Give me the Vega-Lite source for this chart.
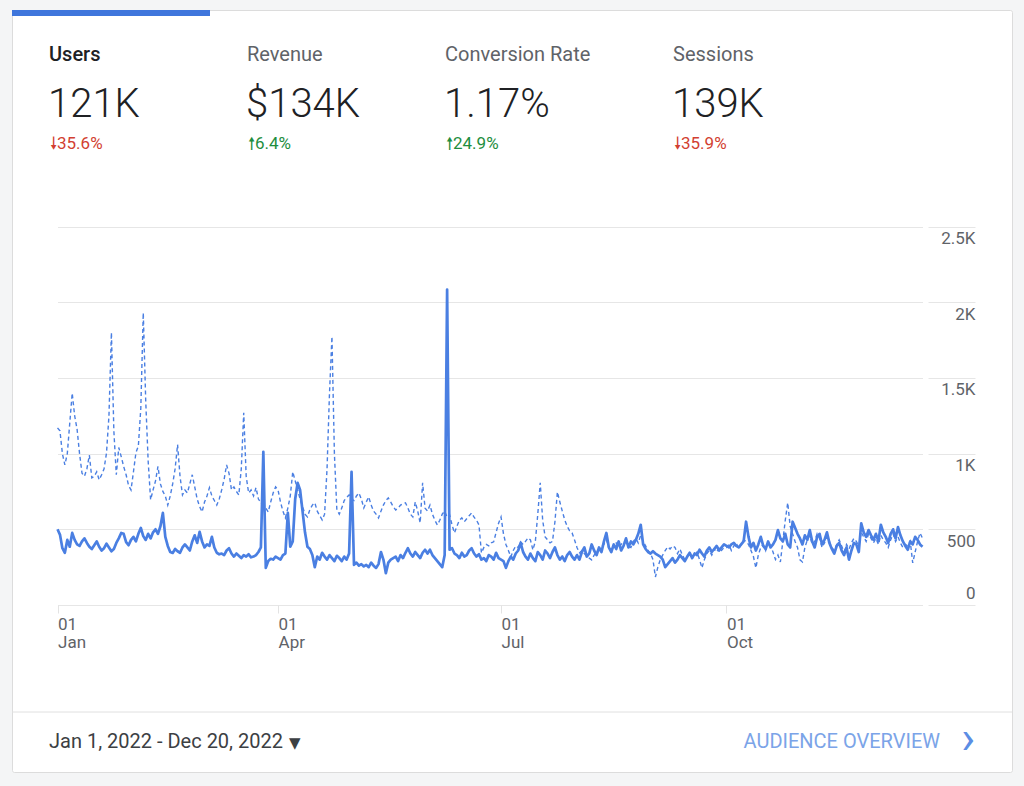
{
  "$schema": "https://vega.github.io/schema/vega-lite/v6.json",
  "width": 1000,
  "height": 762,
  "autosize": {"type": "none"},
  "padding": {"left": 12, "top": 10, "right": 12, "bottom": 14},
  "background": "#f4f5f6",
  "config": {
    "view": {"fill": "#ffffff", "stroke": "#dcdcdc", "strokeWidth": 1, "cornerRadius": 2},
    "font": "Roboto"
  },
  "resolve": {"scale": {"x": "independent", "y": "independent"}},
  "layer": [
    {
      "data": {
        "values": [
          {"date":"2022-01-01","cur":500,"prev":1170},{"date":"2022-01-02","cur":465,"prev":1150},{"date":"2022-01-03","cur":375,"prev":1000},{"date":"2022-01-04","cur":345,"prev":925},{"date":"2022-01-05","cur":430,"prev":1000},{"date":"2022-01-06","cur":385,"prev":1200},{"date":"2022-01-07","cur":476,"prev":1400},{"date":"2022-01-08","cur":430,"prev":1250},{"date":"2022-01-09","cur":400,"prev":1160},{"date":"2022-01-10","cur":390,"prev":1000},{"date":"2022-01-11","cur":420,"prev":870},{"date":"2022-01-12","cur":440,"prev":850},{"date":"2022-01-13","cur":410,"prev":900},{"date":"2022-01-14","cur":385,"prev":990},{"date":"2022-01-15","cur":370,"prev":840},{"date":"2022-01-16","cur":395,"prev":850},{"date":"2022-01-17","cur":420,"prev":880},{"date":"2022-01-18","cur":385,"prev":827},{"date":"2022-01-19","cur":360,"prev":860},{"date":"2022-01-20","cur":375,"prev":900},{"date":"2022-01-21","cur":405,"prev":1005},{"date":"2022-01-22","cur":380,"prev":1250},{"date":"2022-01-23","cur":355,"prev":1800},{"date":"2022-01-24","cur":370,"prev":1150},{"date":"2022-01-25","cur":410,"prev":860},{"date":"2022-01-26","cur":440,"prev":1040},{"date":"2022-01-27","cur":476,"prev":980},{"date":"2022-01-28","cur":470,"prev":915},{"date":"2022-01-29","cur":415,"prev":860},{"date":"2022-01-30","cur":395,"prev":790},{"date":"2022-01-31","cur":430,"prev":760},
          {"date":"2022-02-01","cur":450,"prev":880},{"date":"2022-02-02","cur":420,"prev":1005},{"date":"2022-02-03","cur":470,"prev":1050},{"date":"2022-02-04","cur":509,"prev":1300},{"date":"2022-02-05","cur":455,"prev":1930},{"date":"2022-02-06","cur":430,"prev":1350},{"date":"2022-02-07","cur":470,"prev":950},{"date":"2022-02-08","cur":440,"prev":695},{"date":"2022-02-09","cur":480,"prev":760},{"date":"2022-02-10","cur":500,"prev":820},{"date":"2022-02-11","cur":470,"prev":915},{"date":"2022-02-12","cur":520,"prev":800},{"date":"2022-02-13","cur":608,"prev":750},{"date":"2022-02-14","cur":450,"prev":720},{"date":"2022-02-15","cur":390,"prev":660},{"date":"2022-02-16","cur":350,"prev":720},{"date":"2022-02-17","cur":344,"prev":800},{"date":"2022-02-18","cur":370,"prev":900},{"date":"2022-02-19","cur":355,"prev":1060},{"date":"2022-02-20","cur":345,"prev":850},{"date":"2022-02-21","cur":380,"prev":727},{"date":"2022-02-22","cur":400,"prev":760},{"date":"2022-02-23","cur":380,"prev":740},{"date":"2022-02-24","cur":360,"prev":800},{"date":"2022-02-25","cur":420,"prev":860},{"date":"2022-02-26","cur":460,"prev":780},{"date":"2022-02-27","cur":410,"prev":700},{"date":"2022-02-28","cur":483,"prev":650},
          {"date":"2022-03-01","cur":420,"prev":615},{"date":"2022-03-02","cur":380,"prev":680},{"date":"2022-03-03","cur":400,"prev":720},{"date":"2022-03-04","cur":390,"prev":775},{"date":"2022-03-05","cur":450,"prev":720},{"date":"2022-03-06","cur":380,"prev":690},{"date":"2022-03-07","cur":345,"prev":660},{"date":"2022-03-08","cur":335,"prev":700},{"date":"2022-03-09","cur":340,"prev":760},{"date":"2022-03-10","cur":330,"prev":830},{"date":"2022-03-11","cur":360,"prev":925},{"date":"2022-03-12","cur":375,"prev":870},{"date":"2022-03-13","cur":340,"prev":760},{"date":"2022-03-14","cur":320,"prev":780},{"date":"2022-03-15","cur":340,"prev":750},{"date":"2022-03-16","cur":325,"prev":727},{"date":"2022-03-17","cur":310,"prev":900},{"date":"2022-03-18","cur":330,"prev":1270},{"date":"2022-03-19","cur":320,"prev":850},{"date":"2022-03-20","cur":335,"prev":740},{"date":"2022-03-21","cur":315,"prev":760},{"date":"2022-03-22","cur":320,"prev":720},{"date":"2022-03-23","cur":330,"prev":775},{"date":"2022-03-24","cur":350,"prev":700},{"date":"2022-03-25","cur":380,"prev":675},{"date":"2022-03-26","cur":1012,"prev":650},{"date":"2022-03-27","cur":245,"prev":640},{"date":"2022-03-28","cur":290,"prev":615},{"date":"2022-03-29","cur":305,"prev":680},{"date":"2022-03-30","cur":300,"prev":740},{"date":"2022-03-31","cur":320,"prev":780},
          {"date":"2022-04-01","cur":310,"prev":760},{"date":"2022-04-02","cur":300,"prev":680},{"date":"2022-04-03","cur":330,"prev":620},{"date":"2022-04-04","cur":340,"prev":575},{"date":"2022-04-05","cur":608,"prev":640},{"date":"2022-04-06","cur":385,"prev":720},{"date":"2022-04-07","cur":420,"prev":880},{"date":"2022-04-08","cur":700,"prev":820},{"date":"2022-04-09","cur":807,"prev":760},{"date":"2022-04-10","cur":760,"prev":700},{"date":"2022-04-11","cur":620,"prev":650},{"date":"2022-04-12","cur":480,"prev":600},{"date":"2022-04-13","cur":385,"prev":582},{"date":"2022-04-14","cur":370,"prev":630},{"date":"2022-04-15","cur":330,"prev":660},{"date":"2022-04-16","cur":250,"prev":675},{"date":"2022-04-17","cur":320,"prev":620},{"date":"2022-04-18","cur":300,"prev":590},{"date":"2022-04-19","cur":345,"prev":562},{"date":"2022-04-20","cur":320,"prev":600},{"date":"2022-04-21","cur":300,"prev":900},{"date":"2022-04-22","cur":330,"prev":1400},{"date":"2022-04-23","cur":310,"prev":1773},{"date":"2022-04-24","cur":290,"prev":1000},{"date":"2022-04-25","cur":325,"prev":628},{"date":"2022-04-26","cur":310,"prev":600},{"date":"2022-04-27","cur":290,"prev":640},{"date":"2022-04-28","cur":320,"prev":690},{"date":"2022-04-29","cur":300,"prev":710},{"date":"2022-04-30","cur":340,"prev":727},
          {"date":"2022-05-01","cur":880,"prev":700},{"date":"2022-05-02","cur":265,"prev":690},{"date":"2022-05-03","cur":280,"prev":720},{"date":"2022-05-04","cur":260,"prev":740},{"date":"2022-05-05","cur":270,"prev":700},{"date":"2022-05-06","cur":255,"prev":641},{"date":"2022-05-07","cur":265,"prev":680},{"date":"2022-05-08","cur":250,"prev":714},{"date":"2022-05-09","cur":280,"prev":660},{"date":"2022-05-10","cur":260,"prev":620},{"date":"2022-05-11","cur":245,"prev":600},{"date":"2022-05-12","cur":270,"prev":575},{"date":"2022-05-13","cur":350,"prev":620},{"date":"2022-05-14","cur":300,"prev":660},{"date":"2022-05-15","cur":210,"prev":690},{"date":"2022-05-16","cur":280,"prev":707},{"date":"2022-05-17","cur":300,"prev":680},{"date":"2022-05-18","cur":310,"prev":650},{"date":"2022-05-19","cur":320,"prev":628},{"date":"2022-05-20","cur":290,"prev":640},{"date":"2022-05-21","cur":330,"prev":660},{"date":"2022-05-22","cur":310,"prev":670},{"date":"2022-05-23","cur":345,"prev":675},{"date":"2022-05-24","cur":375,"prev":640},{"date":"2022-05-25","cur":340,"prev":600},{"date":"2022-05-26","cur":320,"prev":582},{"date":"2022-05-27","cur":350,"prev":681},{"date":"2022-05-28","cur":330,"prev":620},{"date":"2022-05-29","cur":310,"prev":542},{"date":"2022-05-30","cur":345,"prev":807},{"date":"2022-05-31","cur":365,"prev":640},
          {"date":"2022-06-01","cur":340,"prev":620},{"date":"2022-06-02","cur":365,"prev":660},{"date":"2022-06-03","cur":330,"prev":600},{"date":"2022-06-04","cur":310,"prev":560},{"date":"2022-06-05","cur":290,"prev":529},{"date":"2022-06-06","cur":270,"prev":560},{"date":"2022-06-07","cur":250,"prev":600},{"date":"2022-06-08","cur":330,"prev":620},{"date":"2022-06-09","cur":2083,"prev":580},{"date":"2022-06-10","cur":365,"prev":595},{"date":"2022-06-11","cur":375,"prev":530},{"date":"2022-06-12","cur":340,"prev":476},{"date":"2022-06-13","cur":330,"prev":520},{"date":"2022-06-14","cur":310,"prev":560},{"date":"2022-06-15","cur":345,"prev":575},{"date":"2022-06-16","cur":320,"prev":550},{"date":"2022-06-17","cur":330,"prev":570},{"date":"2022-06-18","cur":360,"prev":590},{"date":"2022-06-19","cur":375,"prev":608},{"date":"2022-06-20","cur":340,"prev":580},{"date":"2022-06-21","cur":320,"prev":560},{"date":"2022-06-22","cur":335,"prev":529},{"date":"2022-06-23","cur":300,"prev":344},{"date":"2022-06-24","cur":310,"prev":380},{"date":"2022-06-25","cur":290,"prev":400},{"date":"2022-06-26","cur":330,"prev":390},{"date":"2022-06-27","cur":320,"prev":410},{"date":"2022-06-28","cur":300,"prev":417},{"date":"2022-06-29","cur":345,"prev":480},{"date":"2022-06-30","cur":310,"prev":540},
          {"date":"2022-07-01","cur":300,"prev":582},{"date":"2022-07-02","cur":290,"prev":470},{"date":"2022-07-03","cur":245,"prev":400},{"date":"2022-07-04","cur":290,"prev":360},{"date":"2022-07-05","cur":320,"prev":317},{"date":"2022-07-06","cur":300,"prev":360},{"date":"2022-07-07","cur":340,"prev":390},{"date":"2022-07-08","cur":360,"prev":380},{"date":"2022-07-09","cur":410,"prev":417},{"date":"2022-07-10","cur":350,"prev":400},{"date":"2022-07-11","cur":320,"prev":420},{"date":"2022-07-12","cur":300,"prev":443},{"date":"2022-07-13","cur":340,"prev":430},{"date":"2022-07-14","cur":310,"prev":364},{"date":"2022-07-15","cur":290,"prev":420},{"date":"2022-07-16","cur":350,"prev":600},{"date":"2022-07-17","cur":330,"prev":807},{"date":"2022-07-18","cur":300,"prev":560},{"date":"2022-07-19","cur":360,"prev":450},{"date":"2022-07-20","cur":340,"prev":430},{"date":"2022-07-21","cur":310,"prev":410},{"date":"2022-07-22","cur":350,"prev":420},{"date":"2022-07-23","cur":380,"prev":550},{"date":"2022-07-24","cur":330,"prev":747},{"date":"2022-07-25","cur":300,"prev":680},{"date":"2022-07-26","cur":320,"prev":620},{"date":"2022-07-27","cur":290,"prev":562},{"date":"2022-07-28","cur":330,"prev":520},{"date":"2022-07-29","cur":350,"prev":490},{"date":"2022-07-30","cur":320,"prev":476},{"date":"2022-07-31","cur":300,"prev":430},
          {"date":"2022-08-01","cur":330,"prev":380},{"date":"2022-08-02","cur":300,"prev":344},{"date":"2022-08-03","cur":350,"prev":360},{"date":"2022-08-04","cur":380,"prev":340},{"date":"2022-08-05","cur":320,"prev":320},{"date":"2022-08-06","cur":340,"prev":310},{"date":"2022-08-07","cur":400,"prev":298},{"date":"2022-08-08","cur":360,"prev":330},{"date":"2022-08-09","cur":330,"prev":350},{"date":"2022-08-10","cur":380,"prev":370},{"date":"2022-08-11","cur":350,"prev":384},{"date":"2022-08-12","cur":420,"prev":400},{"date":"2022-08-13","cur":476,"prev":430},{"date":"2022-08-14","cur":380,"prev":380},{"date":"2022-08-15","cur":350,"prev":360},{"date":"2022-08-16","cur":400,"prev":390},{"date":"2022-08-17","cur":370,"prev":410},{"date":"2022-08-18","cur":420,"prev":380},{"date":"2022-08-19","cur":360,"prev":400},{"date":"2022-08-20","cur":390,"prev":420},{"date":"2022-08-21","cur":440,"prev":410},{"date":"2022-08-22","cur":380,"prev":390},{"date":"2022-08-23","cur":420,"prev":380},{"date":"2022-08-24","cur":400,"prev":420},{"date":"2022-08-25","cur":430,"prev":440},{"date":"2022-08-26","cur":470,"prev":410},{"date":"2022-08-27","cur":530,"prev":460},{"date":"2022-08-28","cur":400,"prev":420},{"date":"2022-08-29","cur":370,"prev":390},{"date":"2022-08-30","cur":350,"prev":360},{"date":"2022-08-31","cur":340,"prev":340},
          {"date":"2022-09-01","cur":355,"prev":300},{"date":"2022-09-02","cur":340,"prev":185},{"date":"2022-09-03","cur":330,"prev":250},{"date":"2022-09-04","cur":320,"prev":300},{"date":"2022-09-05","cur":300,"prev":330},{"date":"2022-09-06","cur":250,"prev":360},{"date":"2022-09-07","cur":270,"prev":384},{"date":"2022-09-08","cur":290,"prev":370},{"date":"2022-09-09","cur":310,"prev":390},{"date":"2022-09-10","cur":280,"prev":380},{"date":"2022-09-11","cur":300,"prev":340},{"date":"2022-09-12","cur":330,"prev":370},{"date":"2022-09-13","cur":310,"prev":330},{"date":"2022-09-14","cur":290,"prev":300},{"date":"2022-09-15","cur":320,"prev":320},{"date":"2022-09-16","cur":345,"prev":340},{"date":"2022-09-17","cur":310,"prev":310},{"date":"2022-09-18","cur":340,"prev":330},{"date":"2022-09-19","cur":330,"prev":350},{"date":"2022-09-20","cur":365,"prev":300},{"date":"2022-09-21","cur":340,"prev":245},{"date":"2022-09-22","cur":320,"prev":300},{"date":"2022-09-23","cur":360,"prev":340},{"date":"2022-09-24","cur":380,"prev":360},{"date":"2022-09-25","cur":350,"prev":330},{"date":"2022-09-26","cur":370,"prev":370},{"date":"2022-09-27","cur":390,"prev":350},{"date":"2022-09-28","cur":360,"prev":380},{"date":"2022-09-29","cur":380,"prev":360},{"date":"2022-09-30","cur":400,"prev":380},
          {"date":"2022-10-01","cur":390,"prev":380},{"date":"2022-10-02","cur":380,"prev":400},{"date":"2022-10-03","cur":400,"prev":360},{"date":"2022-10-04","cur":410,"prev":390},{"date":"2022-10-05","cur":390,"prev":410},{"date":"2022-10-06","cur":380,"prev":370},{"date":"2022-10-07","cur":400,"prev":400},{"date":"2022-10-08","cur":420,"prev":430},{"date":"2022-10-09","cur":550,"prev":420},{"date":"2022-10-10","cur":450,"prev":400},{"date":"2022-10-11","cur":380,"prev":360},{"date":"2022-10-12","cur":410,"prev":320},{"date":"2022-10-13","cur":360,"prev":245},{"date":"2022-10-14","cur":400,"prev":330},{"date":"2022-10-15","cur":450,"prev":380},{"date":"2022-10-16","cur":390,"prev":400},{"date":"2022-10-17","cur":370,"prev":360},{"date":"2022-10-18","cur":420,"prev":420},{"date":"2022-10-19","cur":380,"prev":390},{"date":"2022-10-20","cur":400,"prev":350},{"date":"2022-10-21","cur":430,"prev":300},{"date":"2022-10-22","cur":495,"prev":330},{"date":"2022-10-23","cur":440,"prev":284},{"date":"2022-10-24","cur":420,"prev":420},{"date":"2022-10-25","cur":470,"prev":560},{"date":"2022-10-26","cur":400,"prev":675},{"date":"2022-10-27","cur":380,"prev":520},{"date":"2022-10-28","cur":550,"prev":470},{"date":"2022-10-29","cur":510,"prev":420},{"date":"2022-10-30","cur":470,"prev":380},{"date":"2022-10-31","cur":440,"prev":298},
          {"date":"2022-11-01","cur":400,"prev":284},{"date":"2022-11-02","cur":460,"prev":380},{"date":"2022-11-03","cur":430,"prev":430},{"date":"2022-11-04","cur":495,"prev":460},{"date":"2022-11-05","cur":420,"prev":400},{"date":"2022-11-06","cur":380,"prev":420},{"date":"2022-11-07","cur":450,"prev":470},{"date":"2022-11-08","cur":470,"prev":440},{"date":"2022-11-09","cur":400,"prev":380},{"date":"2022-11-10","cur":430,"prev":410},{"date":"2022-11-11","cur":480,"prev":450},{"date":"2022-11-12","cur":410,"prev":420},{"date":"2022-11-13","cur":370,"prev":380},{"date":"2022-11-14","cur":340,"prev":360},{"date":"2022-11-15","cur":390,"prev":400},{"date":"2022-11-16","cur":410,"prev":430},{"date":"2022-11-17","cur":360,"prev":390},{"date":"2022-11-18","cur":330,"prev":350},{"date":"2022-11-19","cur":380,"prev":400},{"date":"2022-11-20","cur":300,"prev":370},{"date":"2022-11-21","cur":360,"prev":410},{"date":"2022-11-22","cur":410,"prev":440},{"date":"2022-11-23","cur":400,"prev":420},{"date":"2022-11-24","cur":350,"prev":390},{"date":"2022-11-25","cur":540,"prev":480},{"date":"2022-11-26","cur":480,"prev":450},{"date":"2022-11-27","cur":450,"prev":420},{"date":"2022-11-28","cur":495,"prev":470},{"date":"2022-11-29","cur":460,"prev":440},{"date":"2022-11-30","cur":430,"prev":410},
          {"date":"2022-12-01","cur":470,"prev":440},{"date":"2022-12-02","cur":420,"prev":400},{"date":"2022-12-03","cur":530,"prev":460},{"date":"2022-12-04","cur":480,"prev":430},{"date":"2022-12-05","cur":450,"prev":410},{"date":"2022-12-06","cur":410,"prev":380},{"date":"2022-12-07","cur":470,"prev":430},{"date":"2022-12-08","cur":500,"prev":470},{"date":"2022-12-09","cur":440,"prev":420},{"date":"2022-12-10","cur":515,"prev":450},{"date":"2022-12-11","cur":460,"prev":410},{"date":"2022-12-12","cur":420,"prev":380},{"date":"2022-12-13","cur":390,"prev":400},{"date":"2022-12-14","cur":365,"prev":390},{"date":"2022-12-15","cur":420,"prev":420},{"date":"2022-12-16","cur":400,"prev":278},{"date":"2022-12-17","cur":450,"prev":350},{"date":"2022-12-18","cur":430,"prev":420},{"date":"2022-12-19","cur":400,"prev":476},{"date":"2022-12-20","cur":385,"prev":440}
        ]
      },
      "encoding": {
        "x": {
          "field": "date", "type": "temporal",
          "scale": {"type": "utc", "domain": [{"year": 2022, "month": 1, "date": 1, "utc": true}, {"year": 2022, "month": 12, "date": 20, "utc": true}], "range": [45.5, 910.5]},
          "axis": {
            "orient": "bottom", "offset": -167, "title": null, "domain": false, "grid": false,
            "tickCount": {"interval": "month", "step": 3},
            "ticks": true, "tickSize": 8, "tickColor": "#e3e3e3", "tickWidth": 1,
            "labelExpr": "[utcFormat(datum.value, '%d'), utcFormat(datum.value, '%b')]",
            "labelAlign": "left", "labelBaseline": "top", "labelPadding": 3, "labelLineHeight": 18,
            "labelFont": "Roboto", "labelFontSize": 17, "labelColor": "#5f6368",
            "labelOverlap": false, "labelBound": false, "labelFlush": false
          }
        }
      },
      "resolve": {"axis": {"y": "independent"}},
      "layer": [
        {
          "mark": {"type": "line", "color": "#4a7fe2", "strokeWidth": 1.4, "strokeDash": [4, 3]},
          "encoding": {
            "y": {
              "field": "prev", "type": "quantitative",
              "scale": {"domain": [0, 2500], "range": [595, 216.5], "nice": false, "zero": true},
              "axis": {
                "orient": "left", "title": null, "grid": true, "gridColor": "#e6e6e6", "gridWidth": 1,
                "labels": false, "ticks": false, "domain": false,
                "values": [0, 500, 1000, 1500, 2000, 2500]
              }
            }
          }
        },
        {
          "mark": {"type": "line", "color": "#4a7fe2", "strokeWidth": 2.7, "strokeJoin": "round"},
          "encoding": {
            "y": {
              "field": "cur", "type": "quantitative",
              "axis": {
                "orient": "right", "offset": -84, "title": null, "grid": false, "domain": false,
                "values": [0, 500, 1000, 1500, 2000, 2500],
                "ticks": true, "tickSize": 47, "tickColor": "#e6e6e6", "tickWidth": 1,
                "labelExpr": "datum.value >= 1000 ? format(datum.value / 1000, '~g') + 'K' : format(datum.value, 'd')",
                "labelAlign": "right", "labelBaseline": "middle", "labelPadding": 0,
                "labelOffset": {"condition": {"test": "datum.value === 0", "value": -12}, "value": 12},
                "labelFont": "Roboto", "labelFontSize": 17, "labelColor": "#5f6368",
                "labelOverlap": false, "labelBound": false, "labelFlush": false
              }
            }
          }
        }
      ]
    },
    {
      "data": {
        "values": [
          {"metric": "Users", "figure": "121K", "change": -35.6, "selected": true},
          {"metric": "Revenue", "figure": "$134K", "change": 6.4, "selected": false},
          {"metric": "Conversion Rate", "figure": "1.17%", "change": 24.9, "selected": false},
          {"metric": "Sessions", "figure": "139K", "change": -35.9, "selected": false}
        ]
      },
      "layer": [
        {
          "transform": [{"filter": "datum.selected"}],
          "mark": {"type": "tick", "orient": "horizontal", "thickness": 6, "size": 198, "color": "#3f76dc", "opacity": 1},
          "encoding": {
            "x": {"field": "metric", "type": "nominal", "sort": null, "scale": {"type": "band", "domain": ["Users", "Revenue", "Conversion Rate", "Sessions"], "range": [0, 792], "paddingInner": 0, "paddingOuter": 0}, "axis": null},
            "y": {"datum": "bar", "type": "nominal", "scale": {"type": "point", "domain": ["bar", "label", "figure", "change"], "range": [3, 133], "padding": 0}, "axis": null}
          }
        },
        {
          "transform": [{"filter": "datum.selected"}],
          "mark": {"type": "text", "align": "left", "baseline": "middle", "dx": 37, "dy": -1, "font": "Roboto", "fontSize": 20, "fontWeight": 500, "color": "#202124"},
          "encoding": {
            "x": {"field": "metric", "type": "nominal", "sort": null, "bandPosition": 0, "axis": null},
            "y": {"datum": "label", "type": "nominal", "axis": null},
            "text": {"field": "metric"}
          }
        },
        {
          "transform": [{"filter": "!datum.selected"}],
          "mark": {"type": "text", "align": "left", "baseline": "middle", "dx": {"expr": "datum.metric === 'Sessions' ? 67 : 37"}, "dy": -1, "font": "Roboto", "fontSize": 20, "fontWeight": 400, "color": "#5f6368"},
          "encoding": {
            "x": {"field": "metric", "type": "nominal", "sort": null, "bandPosition": 0, "axis": null},
            "y": {"datum": "label", "type": "nominal", "axis": null},
            "text": {"field": "metric"}
          }
        },
        {
          "mark": {"type": "text", "align": "left", "baseline": "middle", "dx": {"expr": "datum.metric === 'Sessions' ? 66 : 36"}, "dy": 5, "font": "Roboto", "fontSize": 40, "fontWeight": 300, "color": "#202124"},
          "encoding": {
            "x": {"field": "metric", "type": "nominal", "sort": null, "bandPosition": 0, "axis": null},
            "y": {"datum": "figure", "type": "nominal", "axis": null},
            "text": {"field": "figure"}
          }
        },
        {
          "transform": [{"calculate": "(datum.change < 0 ? '🠗' : '🠕') + format(abs(datum.change), '.1f') + '%'", "as": "delta"}],
          "mark": {"type": "text", "align": "left", "baseline": "middle", "dx": {"expr": "datum.metric === 'Sessions' ? 68 : 38"}, "dy": 1, "font": "Roboto", "fontSize": 17},
          "encoding": {
            "x": {"field": "metric", "type": "nominal", "sort": null, "bandPosition": 0, "axis": null},
            "y": {"datum": "change", "type": "nominal", "axis": null},
            "text": {"field": "delta"},
            "color": {"condition": {"test": "datum.change < 0", "value": "#d23f31"}, "value": "#1e8e3e"}
          }
        }
      ]
    },
    {
      "data": {"values": [{"period": "Jan 1, 2022 - Dec 20, 2022", "link": "AUDIENCE OVERVIEW"}]},
      "layer": [
        {
          "mark": {"type": "rule", "color": "#e0e0e0", "strokeWidth": 1},
          "encoding": {
            "y": {"datum": "divider", "type": "nominal", "scale": {"type": "point", "domain": ["divider", "footer"], "range": [702, 732], "padding": 0}, "axis": null}
          }
        },
        {
          "mark": {"type": "text", "align": "left", "baseline": "middle", "font": "Roboto", "fontSize": 20, "color": "#3c4043"},
          "encoding": {
            "x": {"datum": "period", "type": "nominal", "scale": {"type": "point", "domain": ["period", "link"], "range": [37, 963], "padding": 0}, "axis": null},
            "y": {"datum": "footer", "type": "nominal", "axis": null},
            "text": {"field": "period"}
          }
        },
        {
          "mark": {"type": "text", "align": "left", "baseline": "middle", "dx": 240, "dy": 1, "font": "DejaVu Sans", "fontSize": 15, "color": "#3c4043"},
          "encoding": {
            "x": {"datum": "period", "type": "nominal", "axis": null},
            "y": {"datum": "footer", "type": "nominal", "axis": null},
            "text": {"value": "▼"}
          }
        },
        {
          "mark": {"type": "text", "align": "right", "baseline": "middle", "dx": -35, "font": "Roboto", "fontSize": 20, "color": "#7ba4e8"},
          "encoding": {
            "x": {"datum": "link", "type": "nominal", "axis": null},
            "y": {"datum": "footer", "type": "nominal", "axis": null},
            "text": {"field": "link"}
          }
        },
        {
          "mark": {"type": "text", "align": "right", "baseline": "middle", "dy": -3, "font": "Roboto", "fontSize": 46, "fontWeight": 400, "color": "#5b8de4"},
          "encoding": {
            "x": {"datum": "link", "type": "nominal", "axis": null},
            "y": {"datum": "footer", "type": "nominal", "axis": null},
            "text": {"value": "›"}
          }
        }
      ]
    }
  ]
}
